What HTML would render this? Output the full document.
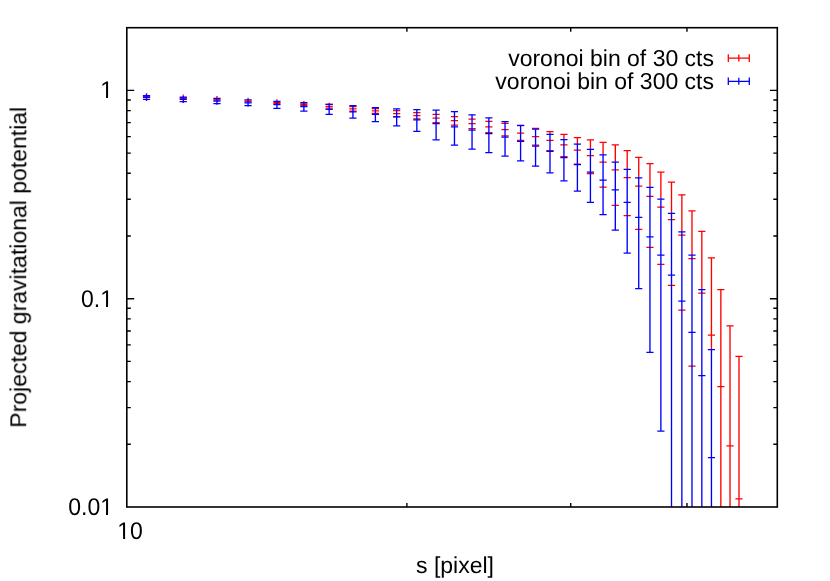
<!DOCTYPE html>
<html><head><meta charset="utf-8"><title>plot</title>
<style>html,body{margin:0;padding:0;background:#fff;}body{width:830px;height:581px;overflow:hidden;position:relative;font-family:"Liberation Sans",sans-serif;}</style>
</head><body>
<svg width="830" height="581" viewBox="0 0 830 581" style="position:absolute;left:0;top:0;display:block">
<rect x="0" y="0" width="830" height="581" fill="#fff"/>
<g font-family="'Liberation Sans', sans-serif" font-size="23px" fill="#000" style="text-rendering:geometricPrecision;filter:grayscale(1)">
<text transform="translate(113.0 98.3) scale(1 1.05)" text-anchor="end">1</text>
<text transform="translate(113.0 306.7) scale(1 1.05)" text-anchor="end">0.1</text>
<text transform="translate(113.0 514.9) scale(1 1.05)" text-anchor="end">0.01</text>
<text transform="translate(130.1 538.6) scale(1 1.05)" text-anchor="middle">10</text>
<text x="455" y="572.7" text-anchor="middle">s [pixel]</text>
<text transform="translate(26.2 267.3) rotate(-90)" text-anchor="middle">Projected gravitational potential</text>
<text x="714" y="66.2" text-anchor="end">voronoi bin of 30 cts</text>
<text x="714" y="89.3" text-anchor="end">voronoi bin of 300 cts</text>
</g>
<g fill="#fff">
<rect x="101.0" y="96.0" width="4.99" height="3.0"/><rect x="108.03" y="96.0" width="4.9" height="3.0"/>
<rect x="101.0" y="304.4" width="4.99" height="3.0"/><rect x="108.03" y="304.4" width="4.9" height="3.0"/>
<rect x="101.0" y="512.6" width="4.99" height="3.0"/><rect x="108.03" y="512.6" width="4.9" height="3.0"/>
<rect x="118.1" y="536.3" width="4.99" height="3.0"/><rect x="125.13" y="536.3" width="4.6" height="3.0"/>
</g>
<clipPath id="c"><rect x="126.8" y="27.7" width="650.5" height="479.3"/></clipPath>
<g clip-path="url(#c)">
<path d="M146.51 92.90V93.80M183.27 94.40V95.70M216.97 96.10V97.50M248.06 97.80V99.30M276.94 99.35V101.00M303.88 101.00V102.65M329.15 102.65V104.30M352.92 105.30V105.70M375.38 107.20V107.50M535.56 128.40V129.20M549.99 131.50V134.40M563.92 134.40V139.50M577.39 137.60V144.10M590.43 139.90V149.30M603.06 142.40V154.80M615.30 144.90V162.00M627.19 150.70V169.30M638.73 157.30V177.90M649.96 163.70V187.40M660.88 172.20V199.20M671.51 182.00V213.30M681.87 194.80V231.80M681.87 231.40V231.80M691.98 210.90V255.20M691.98 254.90V255.20M701.83 231.40V289.70M701.83 289.40V289.70M711.45 257.80V349.60M711.45 331.60V338.80M720.85 289.60V507.00M720.85 383.00V390.20M730.03 325.90V507.00M730.03 442.20V449.40M739.01 356.40V507.00M739.01 495.30V502.50" stroke="#ff0000" stroke-width="1.35" fill="none"/>
<path d="M142.91 96.10H150.11M142.91 96.90H150.11M142.91 96.50H150.11M179.67 97.60H186.87M179.67 98.40H186.87M179.67 98.00H186.87M213.37 99.30H220.57M213.37 100.10H220.57M213.37 99.70H220.57M244.46 101.00H251.66M244.46 101.80H251.66M244.46 101.40H251.66M273.34 102.50H280.54M273.34 103.40H280.54M273.34 102.95H280.54M300.28 103.90H307.48M300.28 105.40H307.48M300.28 104.60H307.48M325.55 104.40H332.75M325.55 108.10H332.75M325.55 106.25H332.75M349.32 106.70H356.52M349.32 111.20H356.52M349.32 108.90H356.52M371.78 108.65H378.98M371.78 113.30H378.98M371.78 110.80H378.98M393.05 110.70H400.25M393.05 116.50H400.25M393.05 113.50H400.25M413.26 112.60H420.46M413.26 118.90H420.46M413.26 115.70H420.46M432.50 114.30H439.70M432.50 122.50H439.70M432.50 118.10H439.70M450.87 116.70H458.07M450.87 125.10H458.07M450.87 120.70H458.07M468.44 119.10H475.64M468.44 128.50H475.64M468.44 123.70H475.64M485.28 121.30H492.48M485.28 132.60H492.48M485.28 126.90H492.48M501.44 123.40H508.64M501.44 135.90H508.64M501.44 129.60H508.64M516.99 125.50H524.19M516.99 140.40H524.19M516.99 133.00H524.19M531.96 128.40H539.16M531.96 145.20H539.16M531.96 136.60H539.16M546.39 131.50H553.59M546.39 150.50H553.59M546.39 140.40H553.59M560.32 134.40H567.52M560.32 156.50H567.52M560.32 144.80H567.52M573.79 137.60H580.99M573.79 164.20H580.99M573.79 150.00H580.99M586.83 139.90H594.03M586.83 173.70H594.03M586.83 155.50H594.03M599.46 142.40H606.66M599.46 187.20H606.66M599.46 162.00H606.66M611.70 144.90H618.90M611.70 205.40H618.90M611.70 169.90H618.90M623.59 150.70H630.79M623.59 215.50H630.79M623.59 177.70H630.79M635.13 157.30H642.33M635.13 229.40H642.33M635.13 186.20H642.33M646.36 163.70H653.56M646.36 247.30H653.56M646.36 196.30H653.56M657.28 172.20H664.48M657.28 264.30H664.48M657.28 207.00H664.48M667.91 182.00H675.11M667.91 285.30H675.11M667.91 219.60H675.11M678.27 194.80H685.47M678.27 310.10H685.47M678.27 235.00H685.47M688.38 210.90H695.58M688.38 366.10H695.58M688.38 258.50H695.58M698.23 231.40H705.43M698.23 293.00H705.43M707.85 257.80H715.05M707.85 335.20H715.05M717.25 289.60H724.45M717.25 386.60H724.45M726.43 325.90H733.63M726.43 445.80H733.63M735.41 356.40H742.61M735.41 498.90H742.61" stroke="#ff0000" stroke-width="1.25" fill="none"/>
<path d="M146.51 95.60V99.30M146.51 93.80V101.00M183.27 97.10V101.50M183.27 95.70V102.90M216.97 98.40V103.50M216.97 97.50V104.70M248.06 99.75V105.70M248.06 99.30V106.50M276.94 101.30V108.30M276.94 101.00V108.20M303.88 102.65V111.00M303.88 102.90V110.10M329.15 104.30V114.30M329.15 105.70V112.90M352.92 105.70V118.00M352.92 108.20V115.40M375.38 107.50V121.60M375.38 110.70V117.90M396.65 108.80V125.90M396.65 113.20V120.40M416.86 109.70V131.40M416.86 116.30V123.50M436.10 110.10V139.80M436.10 120.00V127.20M454.47 111.60V145.00M454.47 123.30V130.50M472.04 114.90V149.00M472.04 126.60V133.80M488.88 117.90V152.60M488.88 130.00V137.20M505.04 121.50V156.10M505.04 133.60V140.80M520.59 125.30V160.90M520.59 137.80V145.00M535.56 129.20V166.20M535.56 142.50V149.70M549.99 134.40V172.80M549.99 147.80V155.00M563.92 139.50V180.80M563.92 153.90V161.10M577.39 144.10V191.10M577.39 161.10V168.30M590.43 149.30V202.40M590.43 168.40V175.60M603.06 154.80V214.70M603.06 176.40V183.60M615.30 162.00V230.10M615.30 186.30V193.50M627.19 169.30V253.10M627.19 198.70V205.90M638.73 177.90V288.50M638.73 213.80V221.00M649.96 187.40V352.40M649.96 233.20V240.40M660.88 199.20V431.10M660.88 251.60V258.80M671.51 213.30V507.00M671.51 271.60V278.80M681.87 231.80V507.00M681.87 297.50V304.70M691.98 255.20V507.00M691.98 328.80V336.00M701.83 289.70V507.00M701.83 371.90V379.10M711.45 349.60V507.00M711.45 454.00V461.20" stroke="#0000ff" stroke-width="1.35" fill="none"/>
<path d="M142.91 95.60H150.11M142.91 99.30H150.11M142.91 97.40H150.11M179.67 97.10H186.87M179.67 101.50H186.87M179.67 99.30H186.87M213.37 98.40H220.57M213.37 103.50H220.57M213.37 101.10H220.57M244.46 99.75H251.66M244.46 105.70H251.66M244.46 102.90H251.66M273.34 101.30H280.54M273.34 108.30H280.54M273.34 104.60H280.54M300.28 102.65H307.48M300.28 111.00H307.48M300.28 106.50H307.48M325.55 104.30H332.75M325.55 114.30H332.75M325.55 109.30H332.75M349.32 105.70H356.52M349.32 118.00H356.52M349.32 111.80H356.52M371.78 107.50H378.98M371.78 121.60H378.98M371.78 114.30H378.98M393.05 108.80H400.25M393.05 125.90H400.25M393.05 116.80H400.25M413.26 109.70H420.46M413.26 131.40H420.46M413.26 119.90H420.46M432.50 110.10H439.70M432.50 139.80H439.70M432.50 123.60H439.70M450.87 111.60H458.07M450.87 145.00H458.07M450.87 126.90H458.07M468.44 114.90H475.64M468.44 149.00H475.64M468.44 130.20H475.64M485.28 117.90H492.48M485.28 152.60H492.48M485.28 133.60H492.48M501.44 121.50H508.64M501.44 156.10H508.64M501.44 137.20H508.64M516.99 125.30H524.19M516.99 160.90H524.19M516.99 141.40H524.19M531.96 129.20H539.16M531.96 166.20H539.16M531.96 146.10H539.16M546.39 134.40H553.59M546.39 172.80H553.59M546.39 151.40H553.59M560.32 139.50H567.52M560.32 180.80H567.52M560.32 157.50H567.52M573.79 144.10H580.99M573.79 191.10H580.99M573.79 164.70H580.99M586.83 149.30H594.03M586.83 202.40H594.03M586.83 172.00H594.03M599.46 154.80H606.66M599.46 214.70H606.66M599.46 180.00H606.66M611.70 162.00H618.90M611.70 230.10H618.90M611.70 189.90H618.90M623.59 169.30H630.79M623.59 253.10H630.79M623.59 202.30H630.79M635.13 177.90H642.33M635.13 288.50H642.33M635.13 217.40H642.33M646.36 187.40H653.56M646.36 352.40H653.56M646.36 236.80H653.56M657.28 199.20H664.48M657.28 431.10H664.48M657.28 255.20H664.48M667.91 213.30H675.11M667.91 275.20H675.11M678.27 231.80H685.47M678.27 301.10H685.47M688.38 255.20H695.58M688.38 332.40H695.58M698.23 289.70H705.43M698.23 375.50H705.43M707.85 349.60H715.05M707.85 457.60H715.05" stroke="#0000ff" stroke-width="1.25" fill="none"/>
</g>
<path d="M728.3 58.1H749.3M728.3 54.300000000000004v7.6M749.3 54.300000000000004v7.6M738.8 54.6v7" stroke="#ff0000" stroke-width="1.3" fill="none"/>
<path d="M728.3 81.3H749.3M728.3 77.5v7.6M749.3 77.5v7.6M738.8 77.8v7" stroke="#0000ff" stroke-width="1.3" fill="none"/>
<path d="M126.80 444.30h4.0M777.30 444.30h-4.0M126.80 407.62h4.0M777.30 407.62h-4.0M126.80 381.59h4.0M777.30 381.59h-4.0M126.80 361.40h4.0M777.30 361.40h-4.0M126.80 344.91h4.0M777.30 344.91h-4.0M126.80 330.97h4.0M777.30 330.97h-4.0M126.80 318.89h4.0M777.30 318.89h-4.0M126.80 308.23h4.0M777.30 308.23h-4.0M126.80 298.70h7.4M777.30 298.70h-7.4M126.80 236.00h4.0M777.30 236.00h-4.0M126.80 199.32h4.0M777.30 199.32h-4.0M126.80 173.29h4.0M777.30 173.29h-4.0M126.80 153.10h4.0M777.30 153.10h-4.0M126.80 136.61h4.0M777.30 136.61h-4.0M126.80 122.67h4.0M777.30 122.67h-4.0M126.80 110.59h4.0M777.30 110.59h-4.0M126.80 99.93h4.0M777.30 99.93h-4.0M126.80 90.40h7.4M777.30 90.40h-7.4M406.88 507.00v-4.0M406.88 27.70v4.0M570.71 507.00v-4.0M570.71 27.70v4.0M686.96 507.00v-4.0M686.96 27.70v4.0" stroke="#000" stroke-width="1.4" fill="none"/>
<rect x="126.8" y="27.7" width="650.50" height="479.30" fill="none" stroke="#000" stroke-width="1.6"/>
</svg>
</body></html>
